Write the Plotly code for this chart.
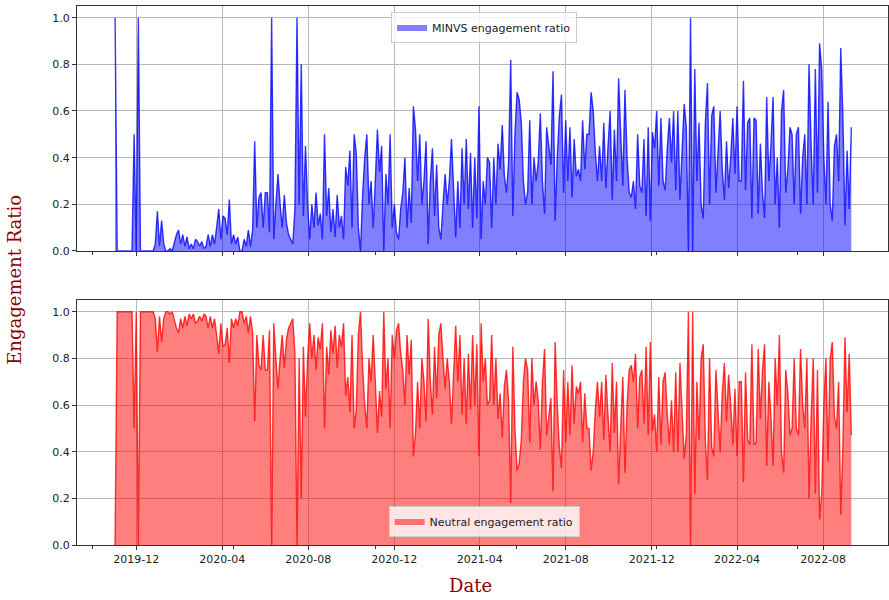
import pandas as pd
import plotly.graph_objects as go

start_date = "2019-11-01"
step = "3D"

minvs_ratio = [
    1.0, 0, 0, 0, 0, 0, 0, 0, 0, 0.5,
    0, 1.0, 0, 0, 0, 0, 0, 0, 0, 0.03,
    0.17, 0.02, 0.13, 0.03, 0, 0, 0.01, 0, 0.04, 0.07,
    0.09, 0.03, 0.07, 0.02, 0.06, 0.01, 0.03, 0.01, 0.05, 0.04,
    0.02, 0.04, 0.01, 0.02, 0.07, 0.02, 0.07, 0.03, 0.1, 0.18,
    0.05, 0.15, 0.14, 0.07, 0.22, 0.03, 0.07, 0.03, 0.06, 0,
    0, 0.05, 0.02, 0.09, 0.02, 0.09, 0.47, 0.1, 0.23, 0.25,
    0.1, 0.25, 0.25, 0.08, 1.0, 0.05, 0.2, 0.33, 0.2, 0.1,
    0.24, 0.12, 0.07, 0.05, 0.03, 0.18, 1.0, 0.2, 0.8, 0.15,
    0.45, 0.2, 0.05, 0.2, 0.1, 0.25, 0.11, 0.16, 0.05, 0.5,
    0.15, 0.27, 0.08, 0.18, 0.06, 0.24, 0.1, 0.15, 0.05, 0.36,
    0.28, 0.43, 0.1, 0.5, 0.42, 0.1, 0.0, 0.24, 0.4, 0.5,
    0.2, 0.3, 0.1, 0.3, 0.52, 0.34, 0.45, 0.0, 0.33, 0.2,
    0.5, 0.1, 0.2, 0.08, 0.05, 0.18, 0.25, 0.4, 0.1, 0.27,
    0.12, 0.62, 0.52, 0.3, 0.5, 0.2, 0.3, 0.47, 0.03, 0.3,
    0.44, 0.15, 0.37, 0.1, 0.05, 0.2, 0.33, 0.2, 0.3, 0.48,
    0.28, 0.06, 0.3, 0.1, 0.44, 0.2, 0.48, 0.18, 0.42, 0.1,
    0.4, 0.14, 0.62, 0.05, 0.3, 0.2, 0.4, 0.38, 0.1, 0.4,
    0.2, 0.46, 0.35, 0.54, 0.32, 0.25, 0.38, 0.82, 0.15, 0.5,
    0.68, 0.65, 0.55, 0.3, 0.2, 0.25, 0.56, 0.2, 0.4, 0.3,
    0.38, 0.59, 0.3, 0.16, 0.53, 0.45, 0.37, 0.77, 0.13, 0.4,
    0.58, 0.67, 0.25, 0.56, 0.3, 0.53, 0.23, 0.48, 0.32, 0.35,
    0.3, 0.56, 0.35, 0.5, 0.5, 0.68, 0.6, 0.42, 0.3, 0.45,
    0.3, 0.55, 0.27, 0.45, 0.6, 0.22, 0.52, 0.3, 0.74, 0.5,
    0.28, 0.69, 0.4, 0.25, 0.23, 0.3, 0.18, 0.5, 0.28, 0.25,
    0.48, 0.15, 0.53, 0.13, 0.51, 0.44, 0.6, 0.28, 0.57, 0.3,
    0.26, 0.44, 0.57, 0.38, 0.6, 0.26, 0.6, 0.22, 0.44, 0.63,
    0.53, 0.0, 1.0, 0.0, 0.78, 0.3, 0.55, 0.2, 0.14, 0.55,
    0.72, 0.2, 0.58, 0.62, 0.25, 0.42, 0.6, 0.35, 0.22, 0.47,
    0.27, 0.4, 0.57, 0.33, 0.62, 0.3, 0.3, 0.73, 0.26, 0.55,
    0.57, 0.14, 0.57, 0.56, 0.16, 0.46, 0.25, 0.14, 0.66, 0.3,
    0.45, 0.66, 0.2, 0.4, 0.1, 0.6, 0.69, 0.25, 0.35, 0.53,
    0.5, 0.2, 0.5, 0.53, 0.16, 0.4, 0.5, 0.2, 0.8, 0.45,
    0.2, 0.78, 0.25, 0.89, 0.78, 0.4, 0.2, 0.64, 0.2, 0.13,
    0.45, 0.5, 0.3, 0.87, 0.58, 0.11, 0.43, 0.18, 0.53,
]

neutral_ratio = [
    0.0, 1, 1, 1, 1, 1, 1, 1, 1, 0.5,
    1, 0.0, 1, 1, 1, 1, 1, 1, 1, 0.97,
    0.83, 0.98, 0.87, 0.97, 1, 1, 0.99, 1, 0.96, 0.93,
    0.91, 0.97, 0.93, 0.98, 0.94, 0.99, 0.97, 0.99, 0.95, 0.96,
    0.98, 0.96, 0.99, 0.98, 0.93, 0.98, 0.93, 0.97, 0.9, 0.82,
    0.95, 0.85, 0.86, 0.93, 0.78, 0.97, 0.93, 0.97, 0.94, 1,
    1, 0.95, 0.98, 0.91, 0.98, 0.91, 0.53, 0.9, 0.77, 0.75,
    0.9, 0.75, 0.75, 0.92, 0.0, 0.95, 0.8, 0.67, 0.8, 0.9,
    0.76, 0.88, 0.93, 0.95, 0.97, 0.82, 0.0, 0.8, 0.2, 0.85,
    0.55, 0.8, 0.95, 0.8, 0.9, 0.75, 0.89, 0.84, 0.95, 0.5,
    0.85, 0.73, 0.92, 0.82, 0.94, 0.76, 0.9, 0.85, 0.95, 0.64,
    0.72, 0.57, 0.9, 0.5, 0.58, 0.9, 1.0, 0.76, 0.6, 0.5,
    0.8, 0.7, 0.9, 0.7, 0.48, 0.66, 0.55, 1.0, 0.67, 0.8,
    0.5, 0.9, 0.8, 0.92, 0.95, 0.82, 0.75, 0.6, 0.9, 0.73,
    0.88, 0.38, 0.48, 0.7, 0.5, 0.8, 0.7, 0.53, 0.97, 0.7,
    0.56, 0.85, 0.63, 0.9, 0.95, 0.8, 0.67, 0.8, 0.7, 0.52,
    0.72, 0.94, 0.7, 0.9, 0.56, 0.8, 0.52, 0.82, 0.58, 0.9,
    0.6, 0.86, 0.38, 0.95, 0.7, 0.8, 0.6, 0.62, 0.9, 0.6,
    0.8, 0.54, 0.65, 0.46, 0.68, 0.75, 0.62, 0.18, 0.85, 0.5,
    0.32, 0.35, 0.45, 0.7, 0.8, 0.75, 0.44, 0.8, 0.6, 0.7,
    0.62, 0.41, 0.7, 0.84, 0.47, 0.55, 0.63, 0.23, 0.87, 0.6,
    0.42, 0.33, 0.75, 0.44, 0.7, 0.47, 0.77, 0.52, 0.68, 0.65,
    0.7, 0.44, 0.65, 0.5, 0.5, 0.32, 0.4, 0.58, 0.7, 0.55,
    0.7, 0.45, 0.73, 0.55, 0.4, 0.78, 0.48, 0.7, 0.26, 0.5,
    0.72, 0.31, 0.6, 0.75, 0.77, 0.7, 0.82, 0.5, 0.72, 0.75,
    0.52, 0.85, 0.47, 0.87, 0.49, 0.56, 0.4, 0.72, 0.43, 0.7,
    0.74, 0.56, 0.43, 0.62, 0.4, 0.74, 0.4, 0.78, 0.56, 0.37,
    0.47, 1.0, 0.0, 1.0, 0.22, 0.7, 0.45, 0.8, 0.86, 0.45,
    0.28, 0.8, 0.42, 0.38, 0.75, 0.58, 0.4, 0.65, 0.78, 0.53,
    0.73, 0.6, 0.43, 0.67, 0.38, 0.7, 0.7, 0.27, 0.74, 0.45,
    0.43, 0.86, 0.43, 0.44, 0.84, 0.54, 0.75, 0.86, 0.34, 0.7,
    0.55, 0.34, 0.8, 0.6, 0.9, 0.4, 0.31, 0.75, 0.65, 0.47,
    0.5, 0.8, 0.5, 0.47, 0.84, 0.6, 0.5, 0.8, 0.2, 0.55,
    0.8, 0.22, 0.75, 0.11, 0.22, 0.6, 0.8, 0.36, 0.8, 0.87,
    0.55, 0.5, 0.7, 0.13, 0.42, 0.89, 0.57, 0.82, 0.47,
]

x_tick_vals = ["2019-12-01", "2020-04-01", "2020-08-01", "2020-12-01", "2021-04-01",
               "2021-08-01", "2021-12-01", "2022-04-01", "2022-08-01"]
x_tick_text = ["2019-12", "2020-04", "2020-08", "2020-12", "2021-04",
               "2021-08", "2021-12", "2022-04", "2022-08"]
x_minor_vals = ["2019-09-30", "2020-04-17", "2020-11-04", "2021-05-23", "2021-12-08", "2022-06-26"]
y_tick_vals = [0.0, 0.2, 0.4, 0.6, 0.8, 1.0]

dates = pd.date_range(start_date, periods=len(minvs_ratio), freq=step)

FONT = "DejaVu Sans"
fig = go.Figure()

# top: MINVS
fig.add_trace(go.Scatter(x=dates, y=minvs_ratio, mode="none", fill="tozeroy",
                         fillcolor="rgba(0,0,255,0.5)", name="MINVS engagement ratio",
                         xaxis="x", yaxis="y", legend="legend"))
fig.add_trace(go.Scatter(x=dates, y=minvs_ratio, mode="lines",
                         line=dict(color="rgba(0,0,255,0.78)", width=1.4),
                         showlegend=False, xaxis="x", yaxis="y"))
# bottom: Neutral
fig.add_trace(go.Scatter(x=dates, y=neutral_ratio, mode="none", fill="tozeroy",
                         fillcolor="rgba(255,0,0,0.5)", name="Neutral engagement ratio",
                         xaxis="x2", yaxis="y2", legend="legend2"))
fig.add_trace(go.Scatter(x=dates, y=neutral_ratio, mode="lines",
                         line=dict(color="rgba(255,0,0,0.78)", width=1.4),
                         showlegend=False, xaxis="x2", yaxis="y2"))

x_range = ["2019-09-08", "2022-11-01"]
common_x = dict(range=x_range, type="date", tickmode="array", tickvals=x_tick_vals,
                ticktext=x_tick_text, ticks="outside", ticklen=4, tickcolor="#333",
                showgrid=True, gridcolor="#b8b8b8", gridwidth=1, showline=True,
                linecolor="#333", linewidth=1, mirror=True, zeroline=False,
                automargin=False,
                tickfont=dict(family=FONT, size=11, color="#222"),
                minor=dict(tickmode="array", tickvals=x_minor_vals, ticks="outside",
                           ticklen=3, tickcolor="#333", showgrid=False))
common_y = dict(range=[0, 1.05], tickmode="array", tickvals=y_tick_vals,
                tickformat=".1f", ticks="outside", ticklen=4, tickcolor="#333",
                showgrid=True, gridcolor="#b8b8b8", gridwidth=1, showline=True,
                linecolor="#333", linewidth=1, mirror=True, zeroline=False,
                automargin=False,
                tickfont=dict(family=FONT, size=11, color="#222"))

fig.update_layout(
    width=889, height=600,
    margin=dict(l=77, r=1, t=6, b=55, autoexpand=False),
    paper_bgcolor="white", plot_bgcolor="white",
    font=dict(family=FONT, size=11, color="#222"),
    xaxis=dict(common_x, anchor="y", domain=[0, 1], showticklabels=False, matches="x2"),
    yaxis=dict(common_y, anchor="x", domain=[0.5455, 1.0]),
    xaxis2=dict(common_x, anchor="y2", domain=[0, 1]),
    yaxis2=dict(common_y, anchor="x2", domain=[0.0, 0.4545]),
    legend=dict(x=0.502, y=0.988, xanchor="center", yanchor="top",
                bgcolor="rgba(255,255,255,0.8)", bordercolor="#cccccc", borderwidth=1,
                font=dict(family=FONT, size=11, color="#222"), itemwidth=30),
    legend2=dict(x=0.502, y=0.014, xanchor="center", yanchor="bottom",
                 bgcolor="rgba(255,255,255,0.8)", bordercolor="#cccccc", borderwidth=1,
                 font=dict(family=FONT, size=11, color="#222"), itemwidth=30),
    annotations=[
        dict(text="Engagement Ratio", xref="paper", yref="paper", x=-0.0765, y=0.492,
             xanchor="center", yanchor="middle", textangle=-90, showarrow=False,
             font=dict(family="DejaVu Serif", size=18, color="#8B0000")),
        dict(text="Date", xref="paper", yref="paper", x=0.4846, y=-0.076,
             xanchor="center", yanchor="middle", showarrow=False,
             font=dict(family="DejaVu Serif", size=18, color="#8B0000")),
    ],
)

fig.write_html("out.html", config={"displayModeBar": False},
               post_script="document.body.style.margin='0px';document.body.style.padding='0px';")
